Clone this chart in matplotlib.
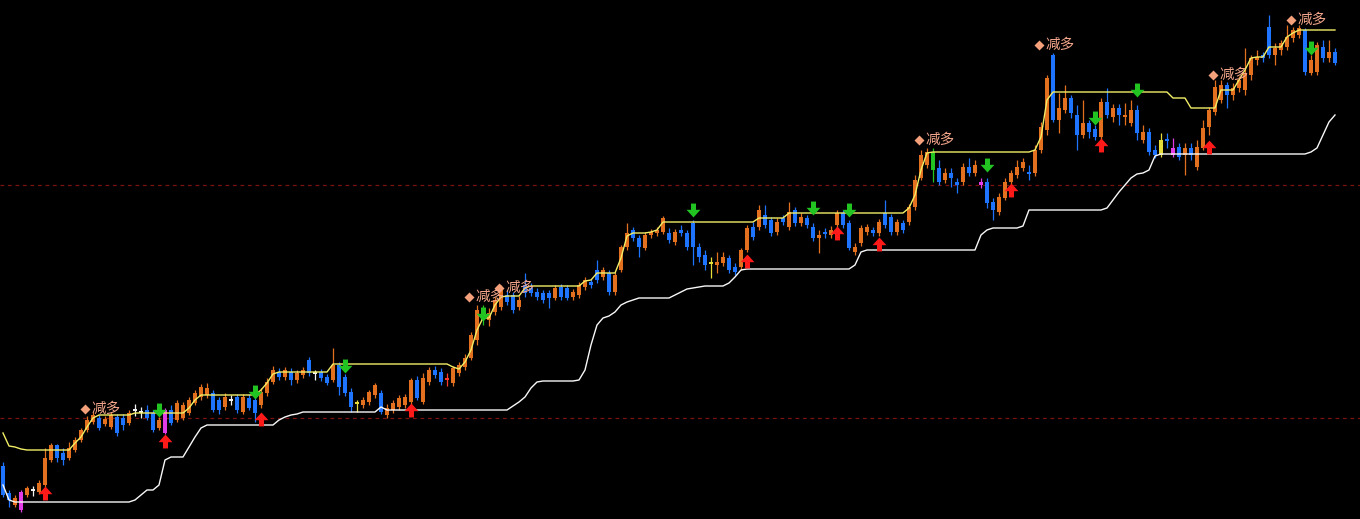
import matplotlib
matplotlib.use('Agg')
import matplotlib.pyplot as plt
import numpy as np
from matplotlib.path import Path

plt.rcParams['font.family'] = ['Noto Sans CJK SC', 'DejaVu Sans']

# ---------------- data (price units) ----------------
opens = [54, 27, 15, 10, 25, 30, 28, 35, 60, 75,
         67, 62, 70, 80, 90, 98, 102, 96, 93, 103,
         102, 97, 110, 108, 110, 107, 92, 87, 110, 100,
         102, 107, 117, 123, 125, 127, 120, 113, 120, 123,
         108, 122, 120, 115, 127, 138, 148, 143, 148, 140,
         145, 160, 147, 148, 143, 140, 155, 143, 128, 117,
         115, 118, 125, 127, 105, 110, 113, 115, 118, 140,
         118, 138, 150, 148, 140, 137, 147, 153, 162, 180,
         200, 200, 208, 213, 225, 225, 213, 235, 232, 228,
         227, 227, 222, 233, 232, 223, 225, 233, 238, 250,
         243, 247, 228, 250, 273, 290, 282, 272, 285, 287,
         288, 287, 278, 290, 287, 297, 273, 265, 257, 255,
         257, 262, 253, 253, 270, 293, 293, 305, 300, 288,
         302, 293, 310, 297, 302, 293, 282, 288, 285, 295,
         307, 297, 268, 277, 288, 290, 287, 307, 303, 288,
         297, 298, 313, 342, 355, 350, 352, 340, 347, 338,
         338, 353, 347, 338, 338, 318, 308, 322, 338, 345,
         352, 348, 347, 370, 390, 465, 400, 410, 422, 405,
         385, 397, 391, 383, 418, 403, 412, 403, 397, 410,
         380, 388, 370, 365, 381, 365, 373, 365, 372, 353,
         372, 393, 408, 420, 435, 425, 432, 430, 445, 460,
         465, 493, 465, 470, 473, 482, 485, 490, 447, 448,
         473, 462, 468]

closes = [25, 20, 22, 28, 32, 30, 37, 62, 75, 62,
          60, 72, 80, 90, 100, 105, 92, 101, 105, 87,
          95, 107, 110, 108, 102, 90, 100, 110, 97, 117,
          115, 120, 127, 133, 132, 110, 110, 123, 120, 110,
          123, 112, 107, 128, 138, 150, 143, 150, 140, 147,
          150, 147, 147, 142, 137, 155, 133, 127, 113, 117,
          120, 128, 135, 108, 112, 117, 122, 123, 140, 122,
          142, 150, 145, 138, 142, 152, 155, 162, 185, 210,
          207, 207, 220, 230, 218, 210, 220, 227, 227, 223,
          220, 222, 232, 223, 222, 228, 235, 240, 235, 240,
          250, 228, 245, 273, 287, 282, 273, 285, 288, 290,
          302, 280, 288, 287, 273, 273, 263, 255, 257, 258,
          263, 250, 248, 270, 292, 283, 310, 295, 287, 298,
          298, 308, 297, 303, 295, 282, 285, 286, 290, 307,
          295, 272, 273, 292, 293, 287, 298, 295, 288, 298,
          290, 313, 340, 365, 368, 368, 338, 347, 342, 335,
          353, 347, 355, 335, 317, 310, 323, 338, 347, 353,
          358, 346, 370, 393, 442, 400, 412, 422, 407, 385,
          397, 388, 383, 418, 405, 412, 405, 405, 410, 387,
          388, 368, 365, 380, 379, 372, 363, 372, 365, 373,
          392, 410, 433, 435, 425, 432, 440, 447, 462, 463,
          462, 465, 472, 477, 483, 490, 492, 448, 460, 475,
          462, 468, 457]

highs = [58, 30, 25, 30, 34, 34, 40, 72, 77, 76,
         72, 78, 83, 92, 104, 108, 105, 104, 108, 106,
         106, 110, 116, 113, 115, 110, 103, 112, 115, 120,
         118, 123, 130, 136, 137, 130, 123, 127, 125, 126,
         126, 126, 123, 132, 142, 154, 152, 153, 152, 150,
         153, 163, 150, 151, 146, 172, 158, 146, 132, 120,
         123, 130, 137, 130, 116, 120, 125, 126, 142, 144,
         147, 153, 154, 152, 147, 154, 158, 166, 188, 215,
         215, 212, 223, 235, 230, 228, 224, 247, 237, 232,
         230, 230, 235, 236, 235, 231, 238, 243, 241, 260,
         253, 250, 248, 275, 297, 293, 285, 288, 291, 293,
         304, 292, 291, 295, 290, 300, 277, 270, 263, 268,
         268, 265, 257, 272, 295, 298, 315, 315, 303, 302,
         305, 318, 313, 307, 305, 297, 290, 292, 294, 310,
         310, 300, 277, 295, 296, 293, 301, 320, 306, 301,
         300, 316, 345, 370, 372, 372, 360, 352, 352, 342,
         357, 362, 360, 342, 342, 322, 327, 342, 350, 360,
         362, 355, 375, 398, 445, 467, 427, 435, 425, 415,
         420, 400, 395, 422, 432, 416, 416, 417, 420, 415,
         395, 392, 375, 387, 387, 382, 377, 377, 377, 380,
         400, 413, 440, 440, 438, 437, 444, 472, 465, 470,
         468, 505, 477, 480, 495, 493, 495, 492, 465, 478,
         480, 480, 472]

lows = [23, 13, 13, 8, 23, 24, 26, 33, 58, 58,
        55, 60, 68, 78, 88, 96, 90, 94, 91, 84,
        90, 95, 104, 102, 100, 88, 90, 86, 95, 98,
        100, 105, 115, 120, 122, 108, 106, 110, 115, 107,
        106, 110, 98, 112, 124, 136, 140, 140, 135, 137,
        142, 144, 140, 139, 135, 138, 125, 124, 108, 108,
        112, 115, 122, 106, 102, 107, 110, 112, 115, 120,
        116, 135, 142, 135, 134, 134, 144, 150, 160, 175,
        195, 194, 205, 210, 215, 207, 210, 223, 224, 220,
        217, 212, 220, 220, 220, 220, 222, 230, 232, 237,
        240, 225, 225, 248, 270, 279, 263, 270, 282, 284,
        286, 277, 275, 284, 270, 255, 258, 250, 242, 247,
        254, 247, 245, 250, 268, 280, 290, 292, 284, 285,
        295, 290, 294, 294, 292, 279, 267, 282, 282, 292,
        292, 270, 265, 274, 285, 284, 284, 292, 285, 285,
        287, 295, 310, 340, 352, 338, 335, 337, 333, 327,
        335, 344, 344, 332, 312, 300, 305, 320, 335, 342,
        349, 340, 344, 367, 385, 398, 387, 407, 402, 370,
        382, 382, 380, 380, 402, 398, 395, 395, 394, 380,
        377, 365, 362, 363, 372, 363, 360, 345, 360, 350,
        370, 385, 405, 417, 412, 420, 428, 425, 440, 455,
        458, 462, 455, 465, 470, 478, 482, 445, 445, 445,
        458, 458, 455]

# upper trailing line (yellow) and lower support line (white), one value per bar
upper_line = [87, 74, 73, 71, 70, 70, 70, 70, 70, 70,
              70, 70, 77, 83, 93, 102, 105, 105, 105, 105,
              105, 105, 107, 107, 107, 107, 107, 107, 107, 107,
              107, 112, 120, 125, 125, 125, 125, 125, 125, 125,
              125, 125, 125, 130, 137, 146, 148, 148, 148, 148,
              148, 148, 148, 148, 148, 156, 156, 156, 156, 156,
              156, 156, 156, 156, 156, 156, 156, 156, 156, 156,
              156, 156, 156, 156, 156, 153, 151, 158, 170, 190,
              202, 202, 215, 223, 224, 224, 224, 232, 234, 234,
              234, 234, 234, 234, 234, 234, 234, 239, 240, 247,
              247, 247, 247, 262, 284, 287, 287, 287, 288, 290,
              298, 298, 298, 298, 298, 298, 298, 298, 298, 298,
              298, 298, 298, 298, 298, 298, 302, 302, 302, 302,
              302, 307, 307, 307, 307, 307, 307, 307, 307, 307,
              307, 307, 307, 307, 307, 307, 307, 307, 307, 307,
              307, 312, 325, 350, 367, 368, 368, 368, 368, 368,
              368, 368, 368, 368, 368, 368, 368, 368, 368, 368,
              368, 368, 370, 383, 420, 428, 428, 428, 428, 428,
              428, 428, 428, 428, 428, 428, 428, 428, 428, 428,
              428, 428, 428, 428, 428, 422, 422, 422, 412, 412,
              412, 412, 412, 430, 430, 430, 440, 450, 462, 463,
              463, 473, 473, 473, 483, 487, 490, 490, 490, 490,
              490, 490, 490]

lower_line = [35, 20, 18, 18, 18, 18, 18, 18, 18, 18,
              18, 18, 18, 18, 18, 18, 18, 18, 18, 18,
              18, 18, 20, 25, 30, 30, 35, 60, 63, 63,
              63, 73, 83, 92, 95, 95, 95, 95, 95, 95,
              95, 95, 95, 95, 95, 95, 100, 103, 105, 106,
              108, 108, 108, 108, 108, 108, 108, 108, 108, 108,
              108, 108, 108, 113, 110, 110, 110, 110, 110, 110,
              110, 110, 110, 110, 110, 110, 110, 110, 110, 110,
              110, 110, 110, 110, 110, 114, 118, 123, 132, 138,
              139, 139, 139, 139, 139, 139, 140, 150, 175, 195,
              202, 204, 208, 215, 218, 220, 222, 222, 222, 222,
              222, 222, 225, 228, 231, 232, 233, 234, 234, 234,
              234, 237, 243, 250, 251, 251, 251, 251, 251, 251,
              251, 251, 251, 251, 251, 251, 251, 251, 251, 251,
              251, 251, 255, 268, 270, 270, 270, 270, 270, 270,
              270, 270, 270, 270, 270, 270, 270, 270, 270, 270,
              270, 270, 270, 285, 290, 292, 292, 292, 292, 292,
              294, 310, 310, 310, 310, 310, 310, 310, 310, 310,
              310, 310, 310, 310, 312, 320, 328, 335, 342, 346,
              347, 350, 364, 366, 366, 366, 366, 366, 366, 366,
              366, 366, 366, 366, 366, 366, 366, 366, 366, 366,
              366, 366, 366, 366, 366, 366, 366, 366, 368, 372,
              385, 398, 405]

# bars drawn in a special colour (index, kind)
special_idx = [3, 5, 22, 23, 27, 38, 52, 59, 74, 80, 118, 155, 163, 193, 195]
special_kind = ['magenta', 'white', 'white', 'white', 'magenta', 'white', 'white',
                'yellow', 'red', 'green', 'yellow', 'green', 'magenta', 'yellow', 'magenta']

# "减多" signals (bar index, price)
reduce_idx = [14, 78, 83, 153, 173, 202, 215]
reduce_price = [111, 223, 232, 380, 475, 445, 500]
reduce_label = '减多'

# green down arrows (bar index, price)
down_idx = [26, 42, 57, 80, 115, 135, 141, 164, 182, 189, 218]
down_price = [110, 128, 154, 206, 310, 312, 310, 355, 402, 430, 472]

# red up arrows (bar index, price)
up_idx = [7, 27, 43, 68, 124, 139, 146, 168, 183, 201]
up_price = [27, 79, 101, 110, 259, 287, 276, 330, 375, 373]

# dashed reference levels
ref_levels = [335, 102]

# ---------------- drawing ----------------
ORANGE = '#e2701f'
BLUE = '#1e74ff'
kind_color = {'magenta': '#e23ce6', 'white': '#f2f2f2', 'yellow': '#e6dc3a',
              'red': '#ff3a2a', 'green': '#22c422'}

fig = plt.figure(figsize=(13.6, 5.19), dpi=100, facecolor='black')
ax = fig.add_axes([0, 0, 1, 1])
ax.set_facecolor('black')
ax.set_xlim(-0.5, 226.17)
ax.set_ylim(1, 520)
ax.set_xticks([])
ax.set_yticks([])
for s in ax.spines.values():
    s.set_visible(False)

n = len(opens)
x = np.arange(n)
o = np.array(opens, float)
c = np.array(closes, float)
h = np.array(highs, float)
l = np.array(lows, float)

colors = [ORANGE if c[i] >= o[i] else BLUE for i in range(n)]
for i, k in zip(special_idx, special_kind):
    colors[i] = kind_color[k]

for lev in ref_levels:
    ax.axhline(lev, color='#7a1212', lw=0.9, dashes=(3, 3), zorder=1)

ax.vlines(x, l, h, colors=colors, lw=0.9, zorder=3)
bottom = np.minimum(o, c)
height = np.abs(c - o)
flat = height < 1.2
bottom = np.where(flat, (o + c) / 2 - 0.7, bottom)
height = np.where(flat, 1.4, height)
ax.bar(x, height, bottom=bottom, width=0.8, color=colors, lw=0, zorder=4)

ax.plot(x, upper_line, color='#f2ee66', lw=1.0, zorder=5)
ax.plot(x, lower_line, color='#f8f8f8', lw=1.0, zorder=5)

# arrow markers
down_path = Path([(-0.18, 0.5), (0.18, 0.5), (0.18, 0.05), (0.5, 0.05), (0, -0.5),
                  (-0.5, 0.05), (-0.18, 0.05), (-0.18, 0.5)], closed=True)
up_path = Path([(-0.18, -0.5), (0.18, -0.5), (0.18, -0.05), (0.5, -0.05), (0, 0.5),
                (-0.5, -0.05), (-0.18, -0.05), (-0.18, -0.5)], closed=True)
ax.plot(down_idx, down_price, ls='none', marker=down_path, ms=10,
        color='#22c422', mec='none', zorder=6)
ax.plot(up_idx, up_price, ls='none', marker=up_path, ms=10,
        color='#ff1a1a', mec='none', zorder=6)

# 减多 labels
rx = np.array(reduce_idx, float)
ax.plot(rx - 0.4, reduce_price, ls='none', marker='D', ms=5.5,
        color='#f4a07a', mec='none', zorder=7)
for xi, yi in zip(rx, reduce_price):
    ax.text(xi + 0.75, yi, reduce_label, color='#f2a58a', fontsize=10.5,
            va='center', ha='left', zorder=7)

fig.savefig('out.png', dpi=100, facecolor='black')
